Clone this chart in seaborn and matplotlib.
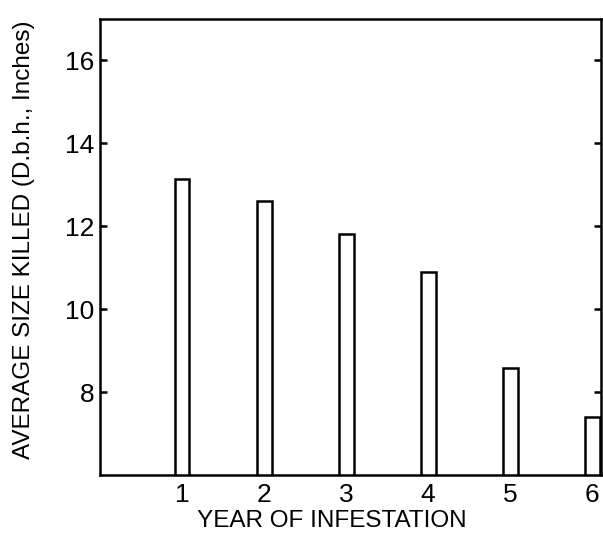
import pandas as pd
import matplotlib.pyplot as plt
import seaborn as sns

# Data
years = [1, 2, 3, 4, 5, 6]
avg_size_killed = [13.15, 12.6, 11.8, 10.9, 8.58, 7.4]
y_ticks = [8, 10, 12, 14, 16]

df = pd.DataFrame({"year": years, "size": avg_size_killed})

sns.set_style("white")
plt.rcParams["font.family"] = ["Liberation Sans", "DejaVu Sans"]
plt.rcParams.update({"text.color": "black", "axes.labelcolor": "black",
                     "xtick.color": "black", "ytick.color": "black"})

fig = plt.figure(figsize=(6.03, 5.38), dpi=100)
ax = fig.add_axes([0.166, 0.117, 0.831, 0.848])

sns.barplot(data=df, x="year", y="size", native_scale=True, width=0.18,
            color="white", edgecolor="black", linewidth=1.8, ax=ax)

ax.set_xlim(0, 6.11)
ax.set_ylim(6, 17)
ax.set_xticks(years)
ax.set_yticks(y_ticks)
ax.tick_params(axis="x", length=0, labelsize=19, pad=6)
ax.tick_params(axis="y", direction="in", length=5, width=1.8, labelsize=19,
               left=True, right=True, pad=4)

for spine in ax.spines.values():
    spine.set_linewidth(1.8)
    spine.set_color("black")

ax.set_xlabel("YEAR OF INFESTATION", fontsize=17.5, labelpad=2)
ax.set_ylabel("AVERAGE SIZE KILLED (D.b.h., Inches)", fontsize=17.5, labelpad=22)
ax.xaxis.label.set_x(0.463)
ax.yaxis.label.set_y(0.515)

plt.savefig("out.png", dpi=100)
